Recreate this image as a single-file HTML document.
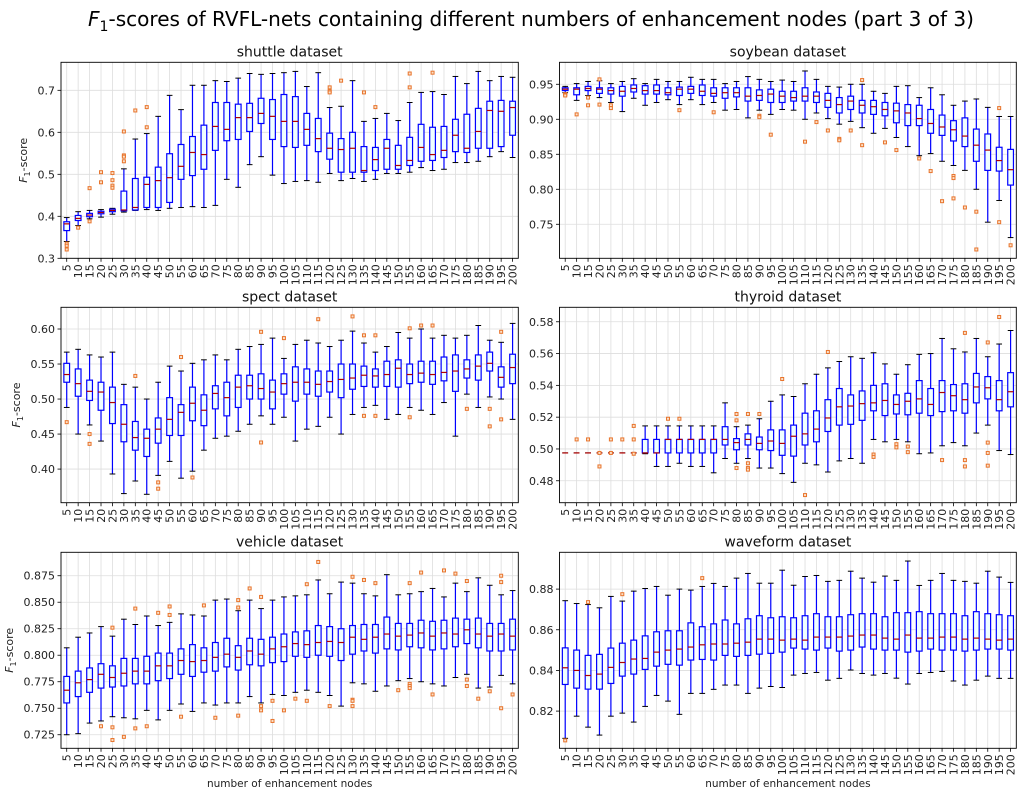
<!DOCTYPE html>
<html><head><meta charset="utf-8">
<style>
html,body{margin:0;padding:0;background:#fff;}
svg{display:block;font-family:"DejaVu Sans","Liberation Sans",sans-serif;}
</style></head>
<body>
<svg id="fig" width="1023" height="796" viewBox="0 0 1023 796" xmlns="http://www.w3.org/2000/svg">
<rect width="1023" height="796" fill="#fff"/>
<text x="531" y="26" font-size="20" text-anchor="middle" fill="#000" textLength="886" lengthAdjust="spacingAndGlyphs"><tspan font-style="italic">F</tspan><tspan font-size="14" dy="5">1</tspan><tspan dy="-5">-scores of RVFL-nets containing different numbers of enhancement nodes (part 3 of 3)</tspan></text>
</svg>
<script>
const categories=[5,10,15,20,25,30,35,40,45,50,55,60,65,70,75,80,85,90,95,100,105,110,115,120,125,130,135,140,145,150,155,160,165,170,175,180,185,190,195,200];

const shuttleHi=[.397,.411,.414,.416,.419,.513,.584,.597,.638,.688,.654,.712,.712,.723,.721,.729,.740,.738,.740,.742,.745,.709,.742,.659,.662,.723,.626,.633,.645,.628,.671,.695,.697,.690,.733,.716,.745,.723,.733,.731];
const shuttleQ3=[.387,.402,.407,.412,.417,.46,.49,.493,.517,.549,.571,.590,.617,.671,.671,.667,.669,.681,.678,.690,.685,.645,.633,.598,.585,.600,.566,.564,.583,.569,.588,.619,.612,.614,.631,.643,.657,.674,.676,.674];
const shuttleMed=[.382,.395,.403,.409,.414,.415,.421,.476,.485,.492,.519,.552,.547,.614,.607,.635,.635,.645,.638,.626,.626,.607,.585,.562,.559,.562,.509,.535,.562,.521,.533,.564,.547,.557,.593,.562,.602,.652,.650,.659];
const shuttleQ1=[.366,.390,.399,.406,.411,.413,.415,.421,.421,.433,.488,.497,.512,.557,.580,.583,.602,.621,.583,.566,.564,.569,.554,.536,.505,.505,.505,.509,.512,.512,.521,.531,.533,.540,.554,.552,.562,.562,.566,.593];
const shuttleLo=[.340,.378,.394,.398,.405,.410,.414,.416,.414,.419,.421,.423,.421,.426,.488,.469,.523,.542,.498,.478,.483,.485,.481,.502,.485,.490,.483,.488,.502,.502,.505,.516,.509,.512,.528,.528,.531,.542,.554,.540];
const shuttleFliers=[[.335,.330,.321],[.373],[.467,.388],[.505,.481],[.503,.486,.473,.468],[.602,.545,.542,.531],[.652],[.660,.612],[],[],[],[],[],[],[],[],[],[],[],[],[],[],[],[.707,.698,.695],[.723],[],[.695],[.660],[],[],[.740,.707],[],[.742],[],[],[],[],[],[],[]];

const soybeanHi=[.947,.951,.954,.955,.951,.954,.958,.951,.957,.954,.954,.960,.957,.957,.951,.954,.961,.957,.954,.956,.954,.969,.957,.947,.946,.950,.950,.940,.937,.947,.948,.931,.945,.935,.920,.926,.929,.917,.904,.904];
const soybeanQ3=[.945,.945,.947,.945,.945,.947,.949,.948,.949,.945,.946,.947,.949,.945,.945,.945,.945,.942,.943,.940,.940,.945,.939,.937,.931,.933,.927,.927,.924,.923,.921,.920,.914,.906,.898,.902,.886,.879,.860,.857];
const soybeanMed=[.943,.943,.944,.943,.941,.940,.944,.941,.941,.938,.943,.943,.940,.937,.938,.938,.933,.934,.936,.933,.931,.933,.933,.927,.921,.926,.920,.918,.914,.912,.909,.901,.894,.889,.885,.876,.863,.856,.841,.828];
const soybeanQ1=[.941,.935,.941,.937,.936,.933,.939,.936,.936,.935,.934,.937,.934,.933,.930,.932,.926,.927,.924,.924,.926,.926,.924,.917,.909,.914,.909,.907,.905,.895,.891,.891,.880,.877,.869,.861,.840,.827,.826,.806];
const soybeanLo=[.938,.927,.934,.931,.924,.911,.930,.920,.924,.928,.921,.928,.921,.924,.913,.914,.902,.913,.907,.914,.913,.900,.909,.901,.893,.897,.888,.880,.887,.874,.861,.848,.851,.840,.834,.827,.800,.753,.784,.731];
const soybeanFliers=[[.936,.935,.934],[.907],[.931,.920],[.957,.921],[.920,.916],[],[],[],[],[],[.913],[],[],[.910],[],[],[],[.905,.903],[.878],[],[],[.868],[.896],[.884],[.872,.870],[.884],[.956,.863],[],[.867],[.856],[],[.844],[.826],[.783],[.819,.816,.787],[.774],[.768,.714],[],[.916,.753],[.720]];

const spectHi=[.567,.571,.563,.560,.567,.521,.517,.500,.524,.547,.540,.551,.556,.563,.556,.571,.575,.578,.587,.558,.578,.584,.580,.575,.584,.597,.580,.567,.575,.595,.587,.600,.587,.591,.587,.591,.605,.584,.581,.608];
const spectQ3=[.551,.543,.527,.524,.517,.492,.468,.457,.473,.502,.492,.517,.506,.519,.524,.534,.534,.536,.527,.536,.546,.543,.540,.540,.550,.550,.547,.543,.554,.556,.550,.554,.554,.560,.563,.556,.563,.567,.546,.564];
const spectMed=[.535,.522,.511,.510,.495,.464,.445,.444,.457,.471,.481,.494,.484,.508,.502,.517,.519,.515,.510,.522,.524,.524,.521,.525,.528,.530,.534,.533,.535,.544,.535,.537,.535,.538,.540,.543,.547,.551,.531,.545];
const spectQ1=[.524,.504,.498,.484,.465,.439,.427,.418,.437,.448,.448,.469,.462,.486,.476,.488,.500,.500,.486,.507,.497,.507,.504,.510,.502,.514,.518,.517,.518,.517,.522,.524,.521,.526,.511,.530,.527,.540,.517,.522];
const spectLo=[.488,.450,.463,.440,.393,.365,.383,.364,.391,.411,.387,.397,.427,.444,.447,.454,.464,.476,.464,.474,.440,.457,.461,.474,.450,.478,.488,.491,.471,.478,.488,.484,.478,.495,.447,.507,.488,.503,.500,.471];
const spectFliers=[[.467],[],[.450,.436],[],[],[],[.533],[],[.381,.372],[],[.560],[.388],[],[],[],[],[],[.596,.438],[],[.587],[],[],[.614],[],[],[.618],[.591,.476],[.591,.476],[],[],[.601,.474],[.605],[.605],[],[],[.486],[],[.486,.461],[.596,.471],[]];

const thyroidHi=[.4975,.4975,.4975,.4975,.4975,.4975,.4975,.5145,.5145,.5145,.5145,.5145,.5145,.5145,.529,.514,.515,.519,.530,.534,.533,.541,.547,.551,.555,.558,.557,.5605,.5535,.547,.553,.5595,.560,.5695,.563,.561,.5695,.558,.566,.5745];
const thyroidQ3=[.4975,.4975,.4975,.4975,.4975,.4975,.4975,.506,.506,.506,.506,.506,.506,.506,.514,.5065,.5095,.5075,.512,.512,.515,.5225,.524,.531,.538,.534,.5365,.540,.541,.534,.535,.543,.538,.543,.5405,.541,.5475,.5455,.543,.548];
const thyroidMed=[.4975,.4975,.4975,.4975,.4975,.4975,.4975,.4975,.4975,.506,.506,.506,.506,.506,.506,.504,.506,.5035,.505,.5035,.508,.5095,.5125,.5195,.5265,.527,.5285,.529,.5305,.528,.530,.5315,.528,.5355,.5335,.531,.539,.5385,.531,.536];
const thyroidQ1=[.4975,.4975,.4975,.4975,.4975,.4975,.4975,.4975,.4975,.4975,.4975,.4975,.4975,.4975,.5025,.4995,.5025,.4995,.499,.496,.4955,.5025,.5045,.511,.515,.5155,.518,.524,.521,.522,.5215,.5225,.521,.5235,.524,.5225,.529,.5315,.524,.5265];
const thyroidLo=[.4975,.4975,.4975,.4975,.4975,.4975,.4975,.497,.489,.489,.491,.489,.489,.485,.494,.491,.494,.488,.488,.4845,.479,.491,.490,.4855,.4925,.494,.491,.506,.5045,.506,.5045,.497,.4975,.502,.504,.502,.510,.515,.499,.4965];
const thyroidFliers=[[],[.506],[.506],[.4975,.489],[.506,.4975],[.506],[.5145,.506,.497],[],[],[.519],[.519],[],[],[],[],[.522,.518,.488],[.522,.491,.488,.487],[.522],[],[.544],[],[.471],[],[.561],[],[],[],[.4965,.495],[],[.503,.501],[.5015,.498],[],[],[.493],[],[.573,.493,.489],[],[.567,.504,.4975,.4895],[.583],[]];

const vehicleHi=[.807,.817,.821,.827,.818,.834,.829,.837,.828,.831,.839,.838,.837,.852,.853,.842,.852,.844,.852,.855,.856,.857,.871,.858,.869,.868,.858,.856,.876,.857,.858,.860,.863,.855,.868,.860,.873,.866,.857,.861];
const vehicleQ3=[.780,.785,.788,.792,.790,.797,.797,.799,.802,.802,.806,.810,.807,.812,.816,.809,.816,.815,.817,.820,.822,.823,.828,.827,.825,.828,.829,.829,.836,.830,.830,.833,.832,.833,.835,.834,.835,.830,.830,.834];
const vehicleMed=[.767,.774,.777,.782,.779,.783,.785,.785,.790,.790,.795,.794,.795,.798,.801,.798,.804,.801,.806,.808,.811,.810,.812,.813,.812,.817,.815,.817,.820,.818,.819,.821,.818,.821,.820,.824,.820,.818,.820,.818];
const vehicleQ1=[.755,.761,.765,.769,.770,.771,.773,.773,.776,.778,.782,.780,.784,.785,.789,.786,.791,.790,.793,.794,.799,.798,.800,.799,.795,.801,.804,.802,.806,.805,.808,.807,.805,.806,.808,.811,.807,.804,.804,.805];
const vehicleLo=[.725,.726,.736,.738,.742,.741,.740,.748,.739,.748,.754,.747,.755,.753,.755,.755,.761,.755,.763,.762,.765,.767,.765,.762,.752,.774,.773,.766,.771,.776,.778,.775,.773,.771,.779,.782,.769,.770,.781,.773];
const vehicleFliers=[[],[],[],[.733],[.826,.732,.720],[.723],[.844,.731],[.733],[.840],[.846,.838],[.742],[],[.847],[.741],[],[.852,.845,.743],[.863],[.855,.752,.748],[.757,.738],[.748],[.759],[.867,.757],[.888],[.752],[],[.874,.758,.757,.752],[.871],[.868],[],[.767],[.868,.773,.771,.769],[.878],[.763],[.880],[.877],[.870,.777,.771],[.759],[.766],[.875,.869,.750],[.763]];

const waveformHi=[.8743,.8729,.8724,.8708,.8764,.8741,.8790,.8803,.8813,.8770,.8800,.8795,.8813,.8828,.8813,.8854,.8877,.8829,.8829,.8893,.8819,.8862,.8867,.8838,.8843,.8888,.8854,.8834,.8864,.8843,.8938,.8818,.8843,.8877,.8843,.8838,.8829,.8888,.8859,.8833];
const waveformQ3=[.8511,.8500,.8474,.8479,.8510,.8534,.8549,.8570,.8590,.8595,.8595,.8634,.8615,.8629,.8648,.8629,.8654,.8669,.8659,.8664,.8659,.8669,.8679,.8664,.8664,.8674,.8679,.8679,.8664,.8684,.8684,.8689,.8679,.8679,.8679,.8669,.8689,.8679,.8674,.8669];
const waveformMed=[.8413,.8400,.8375,.8382,.8415,.8439,.8456,.8459,.8490,.8500,.8505,.8515,.8526,.8530,.8530,.8534,.8539,.8554,.8554,.8549,.8554,.8549,.8564,.8564,.8564,.8569,.8574,.8574,.8559,.8554,.8574,.8559,.8559,.8564,.8564,.8554,.8559,.8554,.8549,.8554];
const waveformQ1=[.8331,.8313,.8308,.8308,.8336,.8372,.8382,.8405,.8421,.8430,.8426,.8451,.8454,.8451,.8474,.8469,.8474,.8480,.8484,.8490,.8510,.8505,.8500,.8510,.8495,.8500,.8515,.8505,.8500,.8500,.8490,.8495,.8505,.8500,.8500,.8495,.8500,.8505,.8505,.8500];
const waveformLo=[.8066,.8175,.8121,.8082,.8175,.8190,.8146,.8223,.8277,.8249,.8184,.8287,.8287,.8307,.8328,.8328,.8287,.8313,.8321,.8316,.8377,.8385,.8390,.8352,.8361,.8402,.8385,.8377,.8385,.8362,.8333,.8385,.8390,.8395,.8348,.8328,.8352,.8372,.8361,.8361];
const waveformFliers=[[.8056],[],[.8736],[],[],[.8775],[],[],[],[],[],[],[.8854],[],[],[],[],[],[],[],[],[],[],[],[],[],[],[],[],[],[],[],[],[],[],[],[],[],[],[]];

const shuttleTicks=[0.3,0.4,0.5,0.6,0.7];
const soybeanTicks=[0.75,0.80,0.85,0.90,0.95];
const spectTicks=[0.40,0.45,0.50,0.55,0.60];
const thyroidTicks=[0.48,0.50,0.52,0.54,0.56,0.58];
const vehicleTicks=[0.725,0.750,0.775,0.800,0.825,0.850,0.875];
const waveformTicks=[0.82,0.84,0.86,0.88];

const NS="http://www.w3.org/2000/svg";
const svg=document.getElementById('fig');
function mk(tag,attrs,parent){const e=document.createElementNS(NS,tag);for(const k in attrs)e.setAttribute(k,attrs[k]);(parent||svg).appendChild(e);return e;}

function panel(cfg){
  const {name,title,left,right,top,bottom,ymin,ymax,ticks,dec,hi,q3,med,q1,lo,fl,ylabel,xlabel}=cfg;
  const g=mk('g',{});
  
  
  const n=categories.length;
  const xs=i=>left+(i+0.5)*(right-left)/n;
  const ys=v=>bottom-(v-ymin)/(ymax-ymin)*(bottom-top);
  const step=(right-left)/n;
  categories.forEach((c,i)=>{mk('line',{x1:xs(i),x2:xs(i),y1:top,y2:bottom,stroke:'#dddddd','stroke-width':0.8},g);});
  ticks.forEach(t=>{mk('line',{x1:left,x2:right,y1:ys(t),y2:ys(t),stroke:'#dddddd','stroke-width':0.8},g);});
  const bw=step*0.5, cw=step*0.25;
  categories.forEach((c,i)=>{
    const x=xs(i);
    const b=mk('g',{},g);
    
    
    mk('line',{x1:x,x2:x,y1:ys(q3[i]),y2:ys(hi[i]),stroke:'#0000ff','stroke-width':1.2},b);
    mk('line',{x1:x,x2:x,y1:ys(q1[i]),y2:ys(lo[i]),stroke:'#0000ff','stroke-width':1.2},b);
    mk('line',{x1:x-cw,x2:x+cw,y1:ys(hi[i]),y2:ys(hi[i]),stroke:'#000','stroke-width':1},b);
    mk('line',{x1:x-cw,x2:x+cw,y1:ys(lo[i]),y2:ys(lo[i]),stroke:'#000','stroke-width':1},b);
    const h=ys(q1[i])-ys(q3[i]);
    if(h>0.3) mk('rect',{x:x-bw/2,y:ys(q3[i]),width:bw,height:h,fill:'#f0ffff',stroke:'#0000ff','stroke-width':1.2},b);
    mk('line',{x1:x-bw/2,x2:x+bw/2,y1:ys(med[i]),y2:ys(med[i]),stroke:'#b00000','stroke-width':1.2},b);
    fl[i].forEach(v=>{const s=mk('rect',{x:x-1.5,y:ys(v)-1.5,width:3,height:3,fill:'#fbe0c8',stroke:'#e8742c','stroke-width':1},b);
      
      });
  });
  const fr=mk('rect',{x:left,y:top,width:right-left,height:bottom-top,fill:'none',stroke:'#000','stroke-width':0.9},g);
  
  
  ticks.forEach(t=>{mk('line',{x1:left-3.5,x2:left,y1:ys(t),y2:ys(t),stroke:'#000','stroke-width':0.8},g);
    const tx=mk('text',{x:left-6,y:ys(t)+4,'font-size':11,'text-anchor':'end',fill:'#222'},g);
    tx.textContent=t.toFixed(dec);
    
    });
  categories.forEach((c,i)=>{const x=xs(i);mk('line',{x1:x,x2:x,y1:bottom,y2:bottom+3.5,stroke:'#000','stroke-width':0.8},g);
    const tx=mk('text',{x:0,y:0,'font-size':11,'text-anchor':'end',fill:'#222',transform:`translate(${x+4},${bottom+6}) rotate(-90)`},g);
    tx.textContent=c;
    
    });
  const tt=mk('text',{x:(left+right)/2,y:top-6,'font-size':14,'text-anchor':'middle',fill:'#111'},g);
  tt.textContent=title;
  
  
  if(ylabel){
    const yl=mk('text',{x:0,y:0,'font-size':11,'text-anchor':'middle',fill:'#222',transform:`translate(${ylabel},${(top+bottom)/2}) rotate(-90)`},g);
    yl.innerHTML='<tspan font-style="italic">F</tspan><tspan font-size="8" dy="3">1</tspan><tspan dy="-3">-score</tspan>';
    
    
  }
  if(xlabel){
    const xl=mk('text',{x:(left+right)/2,y:787,'font-size':10.5,'text-anchor':'middle',fill:'#222'},g);
    xl.textContent='number of enhancement nodes';
    
    
  }
}
const L=[61,518.3], R=[559.5,1016.3];
const rows=[[62.3,258.3],[307.3,502.7],[552.3,748.3]];
panel({name:'shuttle',title:'shuttle dataset',left:L[0],right:L[1],top:rows[0][0],bottom:rows[0][1],ymin:0.3,ymax:0.7667,ticks:shuttleTicks,dec:1,hi:shuttleHi,q3:shuttleQ3,med:shuttleMed,q1:shuttleQ1,lo:shuttleLo,fl:shuttleFliers,ylabel:27});
panel({name:'soybean',title:'soybean dataset',left:R[0],right:R[1],top:rows[0][0],bottom:rows[0][1],ymin:0.7014,ymax:0.9814,ticks:soybeanTicks,dec:2,hi:soybeanHi,q3:soybeanQ3,med:soybeanMed,q1:soybeanQ1,lo:soybeanLo,fl:soybeanFliers});
panel({name:'spect',title:'spect dataset',left:L[0],right:L[1],top:rows[1][0],bottom:rows[1][1],ymin:0.352,ymax:0.631,ticks:spectTicks,dec:2,hi:spectHi,q3:spectQ3,med:spectMed,q1:spectQ1,lo:spectLo,fl:spectFliers,ylabel:20});
panel({name:'thyroid',title:'thyroid dataset',left:R[0],right:R[1],top:rows[1][0],bottom:rows[1][1],ymin:0.4662,ymax:0.5891,ticks:thyroidTicks,dec:2,hi:thyroidHi,q3:thyroidQ3,med:thyroidMed,q1:thyroidQ1,lo:thyroidLo,fl:thyroidFliers});
panel({name:'vehicle',title:'vehicle dataset',left:L[0],right:L[1],top:rows[2][0],bottom:rows[2][1],ymin:0.7122,ymax:0.8971,ticks:vehicleTicks,dec:3,hi:vehicleHi,q3:vehicleQ3,med:vehicleMed,q1:vehicleQ1,lo:vehicleLo,fl:vehicleFliers,ylabel:13,xlabel:true});
panel({name:'waveform',title:'waveform dataset',left:R[0],right:R[1],top:rows[2][0],bottom:rows[2][1],ymin:0.8017,ymax:0.8981,ticks:waveformTicks,dec:2,hi:waveformHi,q3:waveformQ3,med:waveformMed,q1:waveformQ1,lo:waveformLo,fl:waveformFliers,xlabel:true});
</script>
</body></html>
